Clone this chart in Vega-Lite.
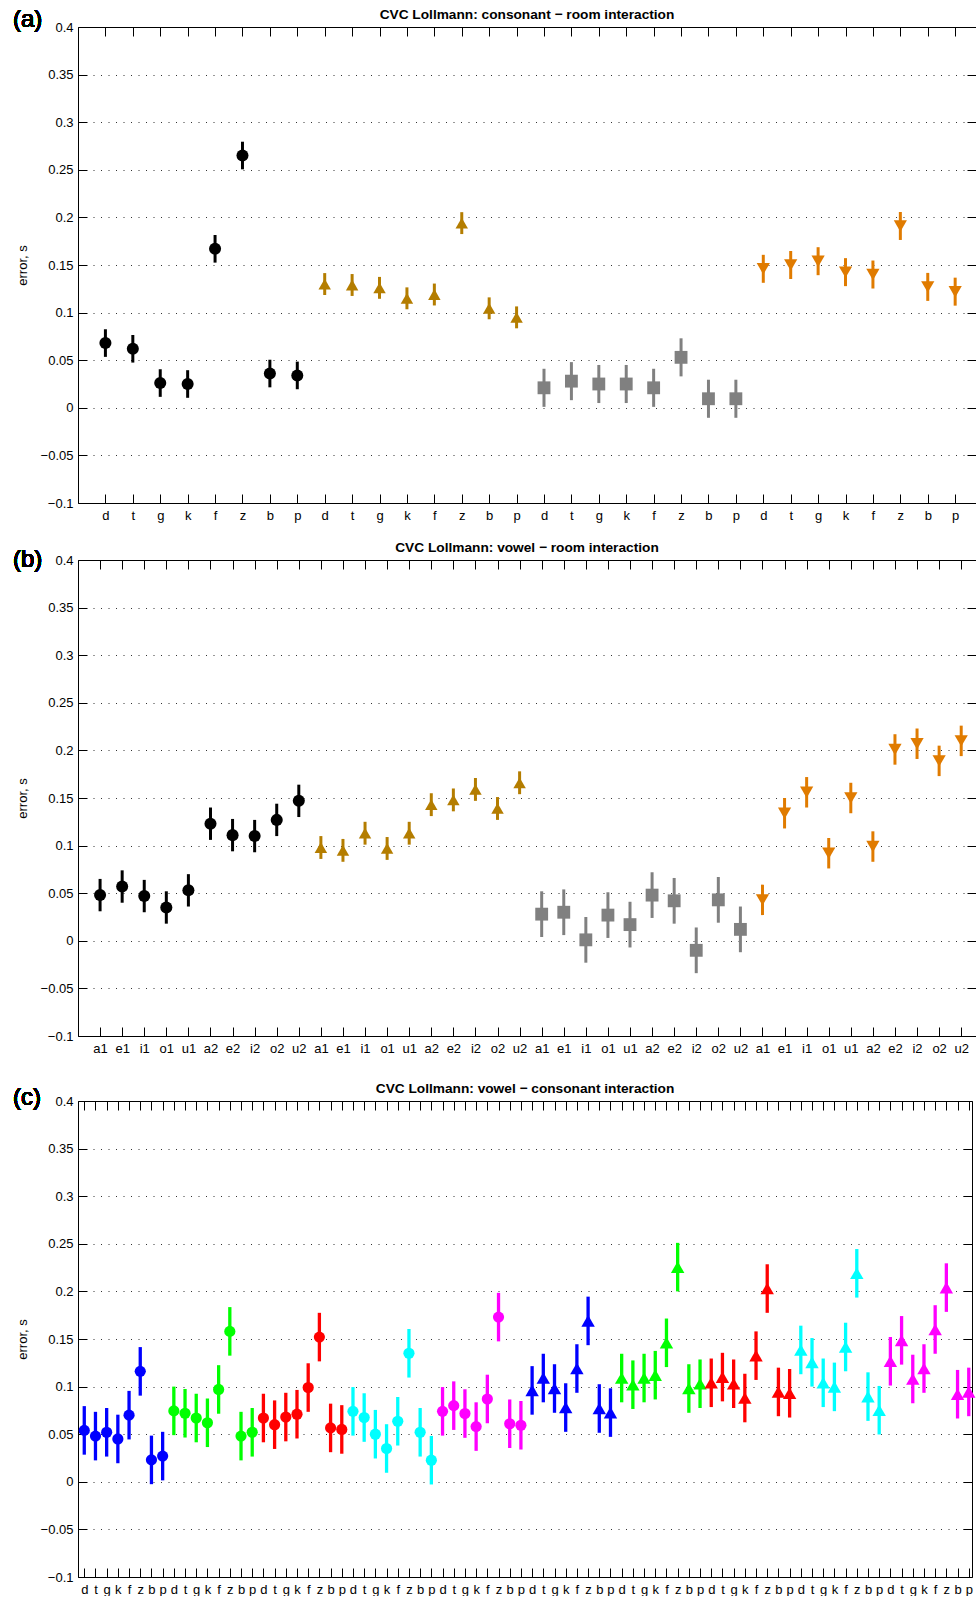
{
  "$schema": "https://vega.github.io/schema/vega-lite/v6.json",
  "padding": {"left": 12, "top": 7, "right": 0, "bottom": 0},
  "background": "white",
  "config": {
    "view": {"stroke": null},
    "font": "Liberation Sans",
    "axis": {"labelFont": "Liberation Sans", "titleFont": "Liberation Sans", "labelColor": "black", "titleColor": "black", "domainColor": "black", "tickColor": "black"}
  },
  "datasets": {
    "a": [
      {"pos": 1, "grp": "g1", "val": 0.068, "err": 0.0145},
      {"pos": 2, "grp": "g1", "val": 0.062, "err": 0.0145},
      {"pos": 3, "grp": "g1", "val": 0.026, "err": 0.0145},
      {"pos": 4, "grp": "g1", "val": 0.025, "err": 0.0145},
      {"pos": 5, "grp": "g1", "val": 0.167, "err": 0.0145},
      {"pos": 6, "grp": "g1", "val": 0.265, "err": 0.0145},
      {"pos": 7, "grp": "g1", "val": 0.036, "err": 0.0145},
      {"pos": 8, "grp": "g1", "val": 0.034, "err": 0.0145},
      {"pos": 9, "grp": "g2", "val": 0.130, "err": 0.0115},
      {"pos": 10, "grp": "g2", "val": 0.129, "err": 0.0115},
      {"pos": 11, "grp": "g2", "val": 0.126, "err": 0.0115},
      {"pos": 12, "grp": "g2", "val": 0.115, "err": 0.0115},
      {"pos": 13, "grp": "g2", "val": 0.119, "err": 0.0115},
      {"pos": 14, "grp": "g2", "val": 0.194, "err": 0.0115},
      {"pos": 15, "grp": "g2", "val": 0.1045, "err": 0.0115},
      {"pos": 16, "grp": "g2", "val": 0.095, "err": 0.0115},
      {"pos": 17, "grp": "g3", "val": 0.021, "err": 0.02},
      {"pos": 18, "grp": "g3", "val": 0.028, "err": 0.02},
      {"pos": 19, "grp": "g3", "val": 0.025, "err": 0.02},
      {"pos": 20, "grp": "g3", "val": 0.025, "err": 0.02},
      {"pos": 21, "grp": "g3", "val": 0.021, "err": 0.02},
      {"pos": 22, "grp": "g3", "val": 0.053, "err": 0.02},
      {"pos": 23, "grp": "g3", "val": 0.0095, "err": 0.02},
      {"pos": 24, "grp": "g3", "val": 0.0095, "err": 0.02},
      {"pos": 25, "grp": "g4", "val": 0.146, "err": 0.0147},
      {"pos": 26, "grp": "g4", "val": 0.150, "err": 0.0147},
      {"pos": 27, "grp": "g4", "val": 0.154, "err": 0.0147},
      {"pos": 28, "grp": "g4", "val": 0.1425, "err": 0.0147},
      {"pos": 29, "grp": "g4", "val": 0.140, "err": 0.0147},
      {"pos": 30, "grp": "g4", "val": 0.191, "err": 0.0147},
      {"pos": 31, "grp": "g4", "val": 0.127, "err": 0.0147},
      {"pos": 32, "grp": "g4", "val": 0.122, "err": 0.0147}
    ],
    "b": [
      {"pos": 1, "grp": "g1", "val": 0.048, "err": 0.017},
      {"pos": 2, "grp": "g1", "val": 0.057, "err": 0.017},
      {"pos": 3, "grp": "g1", "val": 0.047, "err": 0.017},
      {"pos": 4, "grp": "g1", "val": 0.035, "err": 0.017},
      {"pos": 5, "grp": "g1", "val": 0.053, "err": 0.017},
      {"pos": 6, "grp": "g1", "val": 0.123, "err": 0.017},
      {"pos": 7, "grp": "g1", "val": 0.111, "err": 0.017},
      {"pos": 8, "grp": "g1", "val": 0.110, "err": 0.017},
      {"pos": 9, "grp": "g1", "val": 0.127, "err": 0.017},
      {"pos": 10, "grp": "g1", "val": 0.147, "err": 0.017},
      {"pos": 11, "grp": "g2", "val": 0.098, "err": 0.012},
      {"pos": 12, "grp": "g2", "val": 0.095, "err": 0.012},
      {"pos": 13, "grp": "g2", "val": 0.113, "err": 0.012},
      {"pos": 14, "grp": "g2", "val": 0.097, "err": 0.012},
      {"pos": 15, "grp": "g2", "val": 0.113, "err": 0.012},
      {"pos": 16, "grp": "g2", "val": 0.143, "err": 0.012},
      {"pos": 17, "grp": "g2", "val": 0.148, "err": 0.012},
      {"pos": 18, "grp": "g2", "val": 0.159, "err": 0.012},
      {"pos": 19, "grp": "g2", "val": 0.139, "err": 0.012},
      {"pos": 20, "grp": "g2", "val": 0.166, "err": 0.012},
      {"pos": 21, "grp": "g3", "val": 0.028, "err": 0.024},
      {"pos": 22, "grp": "g3", "val": 0.030, "err": 0.024},
      {"pos": 23, "grp": "g3", "val": 0.001, "err": 0.024},
      {"pos": 24, "grp": "g3", "val": 0.027, "err": 0.024},
      {"pos": 25, "grp": "g3", "val": 0.017, "err": 0.024},
      {"pos": 26, "grp": "g3", "val": 0.048, "err": 0.024},
      {"pos": 27, "grp": "g3", "val": 0.042, "err": 0.024},
      {"pos": 28, "grp": "g3", "val": -0.010, "err": 0.024},
      {"pos": 29, "grp": "g3", "val": 0.043, "err": 0.024},
      {"pos": 30, "grp": "g3", "val": 0.012, "err": 0.024},
      {"pos": 31, "grp": "g4", "val": 0.043, "err": 0.016},
      {"pos": 32, "grp": "g4", "val": 0.134, "err": 0.016},
      {"pos": 33, "grp": "g4", "val": 0.156, "err": 0.016},
      {"pos": 34, "grp": "g4", "val": 0.092, "err": 0.016},
      {"pos": 35, "grp": "g4", "val": 0.150, "err": 0.016},
      {"pos": 36, "grp": "g4", "val": 0.099, "err": 0.016},
      {"pos": 37, "grp": "g4", "val": 0.201, "err": 0.016},
      {"pos": 38, "grp": "g4", "val": 0.207, "err": 0.016},
      {"pos": 39, "grp": "g4", "val": 0.189, "err": 0.016},
      {"pos": 40, "grp": "g4", "val": 0.210, "err": 0.016}
    ],
    "c": [
      {"pos": 1, "vow": "a", "set": "1", "val": 0.054, "err": 0.0255},
      {"pos": 2, "vow": "a", "set": "1", "val": 0.048, "err": 0.0255},
      {"pos": 3, "vow": "a", "set": "1", "val": 0.052, "err": 0.0255},
      {"pos": 4, "vow": "a", "set": "1", "val": 0.045, "err": 0.0255},
      {"pos": 5, "vow": "a", "set": "1", "val": 0.070, "err": 0.0255},
      {"pos": 6, "vow": "a", "set": "1", "val": 0.116, "err": 0.0255},
      {"pos": 7, "vow": "a", "set": "1", "val": 0.023, "err": 0.0255},
      {"pos": 8, "vow": "a", "set": "1", "val": 0.027, "err": 0.0255},
      {"pos": 9, "vow": "e", "set": "1", "val": 0.0745, "err": 0.0255},
      {"pos": 10, "vow": "e", "set": "1", "val": 0.072, "err": 0.0255},
      {"pos": 11, "vow": "e", "set": "1", "val": 0.067, "err": 0.0255},
      {"pos": 12, "vow": "e", "set": "1", "val": 0.062, "err": 0.0255},
      {"pos": 13, "vow": "e", "set": "1", "val": 0.097, "err": 0.0255},
      {"pos": 14, "vow": "e", "set": "1", "val": 0.158, "err": 0.0255},
      {"pos": 15, "vow": "e", "set": "1", "val": 0.048, "err": 0.0255},
      {"pos": 16, "vow": "e", "set": "1", "val": 0.052, "err": 0.0255},
      {"pos": 17, "vow": "i", "set": "1", "val": 0.067, "err": 0.0255},
      {"pos": 18, "vow": "i", "set": "1", "val": 0.060, "err": 0.0255},
      {"pos": 19, "vow": "i", "set": "1", "val": 0.068, "err": 0.0255},
      {"pos": 20, "vow": "i", "set": "1", "val": 0.071, "err": 0.0255},
      {"pos": 21, "vow": "i", "set": "1", "val": 0.099, "err": 0.0255},
      {"pos": 22, "vow": "i", "set": "1", "val": 0.152, "err": 0.0255},
      {"pos": 23, "vow": "i", "set": "1", "val": 0.0566, "err": 0.0255},
      {"pos": 24, "vow": "i", "set": "1", "val": 0.055, "err": 0.0255},
      {"pos": 25, "vow": "o", "set": "1", "val": 0.074, "err": 0.0255},
      {"pos": 26, "vow": "o", "set": "1", "val": 0.0675, "err": 0.0255},
      {"pos": 27, "vow": "o", "set": "1", "val": 0.050, "err": 0.0255},
      {"pos": 28, "vow": "o", "set": "1", "val": 0.035, "err": 0.0255},
      {"pos": 29, "vow": "o", "set": "1", "val": 0.0636, "err": 0.0255},
      {"pos": 30, "vow": "o", "set": "1", "val": 0.135, "err": 0.0255},
      {"pos": 31, "vow": "o", "set": "1", "val": 0.052, "err": 0.0255},
      {"pos": 32, "vow": "o", "set": "1", "val": 0.0227, "err": 0.0255},
      {"pos": 33, "vow": "u", "set": "1", "val": 0.074, "err": 0.0255},
      {"pos": 34, "vow": "u", "set": "1", "val": 0.080, "err": 0.0255},
      {"pos": 35, "vow": "u", "set": "1", "val": 0.0717, "err": 0.0255},
      {"pos": 36, "vow": "u", "set": "1", "val": 0.058, "err": 0.0255},
      {"pos": 37, "vow": "u", "set": "1", "val": 0.087, "err": 0.0255},
      {"pos": 38, "vow": "u", "set": "1", "val": 0.173, "err": 0.0255},
      {"pos": 39, "vow": "u", "set": "1", "val": 0.061, "err": 0.0255},
      {"pos": 40, "vow": "u", "set": "1", "val": 0.0594, "err": 0.0255},
      {"pos": 41, "vow": "a", "set": "2", "val": 0.096, "err": 0.0255},
      {"pos": 42, "vow": "a", "set": "2", "val": 0.109, "err": 0.0255},
      {"pos": 43, "vow": "a", "set": "2", "val": 0.098, "err": 0.0255},
      {"pos": 44, "vow": "a", "set": "2", "val": 0.078, "err": 0.0255},
      {"pos": 45, "vow": "a", "set": "2", "val": 0.119, "err": 0.0255},
      {"pos": 46, "vow": "a", "set": "2", "val": 0.169, "err": 0.0255},
      {"pos": 47, "vow": "a", "set": "2", "val": 0.077, "err": 0.0255},
      {"pos": 48, "vow": "a", "set": "2", "val": 0.0727, "err": 0.0255},
      {"pos": 49, "vow": "e", "set": "2", "val": 0.109, "err": 0.0255},
      {"pos": 50, "vow": "e", "set": "2", "val": 0.102, "err": 0.0255},
      {"pos": 51, "vow": "e", "set": "2", "val": 0.109, "err": 0.0255},
      {"pos": 52, "vow": "e", "set": "2", "val": 0.112, "err": 0.0255},
      {"pos": 53, "vow": "e", "set": "2", "val": 0.146, "err": 0.0255},
      {"pos": 54, "vow": "e", "set": "2", "val": 0.2255, "err": 0.0255},
      {"pos": 55, "vow": "e", "set": "2", "val": 0.098, "err": 0.0255},
      {"pos": 56, "vow": "e", "set": "2", "val": 0.103, "err": 0.0255},
      {"pos": 57, "vow": "i", "set": "2", "val": 0.104, "err": 0.0255},
      {"pos": 58, "vow": "i", "set": "2", "val": 0.110, "err": 0.0255},
      {"pos": 59, "vow": "i", "set": "2", "val": 0.103, "err": 0.0255},
      {"pos": 60, "vow": "i", "set": "2", "val": 0.088, "err": 0.0255},
      {"pos": 61, "vow": "i", "set": "2", "val": 0.1325, "err": 0.0255},
      {"pos": 62, "vow": "i", "set": "2", "val": 0.203, "err": 0.0255},
      {"pos": 63, "vow": "i", "set": "2", "val": 0.0944, "err": 0.0255},
      {"pos": 64, "vow": "i", "set": "2", "val": 0.093, "err": 0.0255},
      {"pos": 65, "vow": "o", "set": "2", "val": 0.1385, "err": 0.0255},
      {"pos": 66, "vow": "o", "set": "2", "val": 0.1255, "err": 0.0255},
      {"pos": 67, "vow": "o", "set": "2", "val": 0.104, "err": 0.0255},
      {"pos": 68, "vow": "o", "set": "2", "val": 0.0997, "err": 0.0255},
      {"pos": 69, "vow": "o", "set": "2", "val": 0.1416, "err": 0.0255},
      {"pos": 70, "vow": "o", "set": "2", "val": 0.219, "err": 0.0255},
      {"pos": 71, "vow": "o", "set": "2", "val": 0.0895, "err": 0.0255},
      {"pos": 72, "vow": "o", "set": "2", "val": 0.0752, "err": 0.0255},
      {"pos": 73, "vow": "u", "set": "2", "val": 0.1266, "err": 0.0255},
      {"pos": 74, "vow": "u", "set": "2", "val": 0.1486, "err": 0.0255},
      {"pos": 75, "vow": "u", "set": "2", "val": 0.108, "err": 0.0255},
      {"pos": 76, "vow": "u", "set": "2", "val": 0.119, "err": 0.0255},
      {"pos": 77, "vow": "u", "set": "2", "val": 0.160, "err": 0.0255},
      {"pos": 78, "vow": "u", "set": "2", "val": 0.204, "err": 0.0255},
      {"pos": 79, "vow": "u", "set": "2", "val": 0.092, "err": 0.0255},
      {"pos": 80, "vow": "u", "set": "2", "val": 0.0944, "err": 0.0255}
    ]
  },
  "resolve": {"scale": {"color": "independent", "shape": "independent", "size": "independent"}},
  "spacing": 26,
  "vconcat": [
    {
      "spacing": 18,
      "resolve": {"scale": {"color": "independent", "shape": "independent", "size": "independent"}},
      "vconcat": [
        {
          "title": {"text": "CVC Lollmann: consonant − room interaction", "font": "Liberation Sans", "fontSize": 13.7, "fontWeight": "bold", "color": "black", "frame": "group", "offset": -13.5},
          "width": 898, "height": 476,
          "data": {"name": "a"},
          "resolve": {"axis": {"x": "independent", "y": "independent"}},
          "layer": [
            {
              "mark": {"type": "errorbar", "thickness": 3},
              "encoding": {
                "x": {"field": "pos", "type": "quantitative", "scale": {"domain": [0, 32.76], "nice": false, "zero": false}, "axis": {"orient": "top", "values": [1,2,3,4,5,6,7,8,9,10,11,12,13,14,15,16,17,18,19,20,21,22,23,24,25,26,27,28,29,30,31,32], "labels": false, "tickSize": -9, "grid": false, "title": null}},
                "y": {"field": "val", "type": "quantitative", "scale": {"domain": [-0.1, 0.4], "nice": false, "zero": false}, "axis": {"orient": "right", "values": [-0.1,-0.05,0,0.05,0.1,0.15,0.2,0.25,0.3,0.35,0.4], "labels": false, "domain": false, "tickSize": -9, "grid": false, "title": null}},
                "yError": {"field": "err"},
                "color": {"field": "grp", "type": "nominal", "scale": {"domain": ["g1","g2","g3","g4"], "range": ["#000000","#B47D00","#808080","#E07B00"]}, "legend": null}
              }
            },
            {
              "mark": {"type": "point", "filled": true, "opacity": 1},
              "encoding": {
                "x": {"field": "pos", "type": "quantitative", "scale": {"domain": [0, 32.76], "nice": false, "zero": false}, "axis": {"orient": "bottom", "values": [1,2,3,4,5,6,7,8,9,10,11,12,13,14,15,16,17,18,19,20,21,22,23,24,25,26,27,28,29,30,31,32], "labelExpr": "['d','t','g','k','f','z','b','p'][(datum.value-1)%8]", "labelFontSize": 13, "labelPadding": 15, "labelOverlap": false, "labelFlush": false, "tickSize": -9, "grid": false, "title": null}},
                "y": {"field": "val", "type": "quantitative", "scale": {"domain": [-0.1, 0.4], "nice": false, "zero": false}, "axis": {"orient": "left", "values": [-0.1,-0.05,0,0.05,0.1,0.15,0.2,0.25,0.3,0.35,0.4], "format": "~g", "labelFontSize": 13, "labelPadding": 14, "labelOverlap": false, "labelFlush": false, "tickSize": -9, "grid": true, "gridDash": [1, 6.5], "gridColor": "#333333", "gridWidth": 1, "title": "error, s", "titleFontSize": 13, "titleFontWeight": "normal", "titlePadding": 11}},
                "color": {"field": "grp", "type": "nominal", "scale": {"domain": ["g1","g2","g3","g4"], "range": ["#000000","#B47D00","#808080","#E07B00"]}, "legend": null},
                "shape": {"field": "grp", "type": "nominal", "scale": {"domain": ["g1","g2","g3","g4"], "range": ["circle","triangle-up","square","triangle-down"]}, "legend": null},
                "size": {"field": "grp", "type": "nominal", "scale": {"domain": ["g1","g2","g3","g4"], "range": [145, 175, 125, 175]}, "legend": null}
              }
            },
            {
              "mark": {"type": "text", "font": "Liberation Sans", "fontSize": 24, "fontWeight": "normal", "align": "left", "baseline": "alphabetic", "color": "black"},
              "encoding": {
                "x": {"datum": -2.371, "type": "quantitative", "scale": {"domain": [0, 32.76], "nice": false, "zero": false}, "axis": null},
                "y": {"datum": 0.4, "type": "quantitative", "scale": {"domain": [-0.1, 0.4], "nice": false, "zero": false}, "axis": null},
                "text": {"value": "(a)"}
              }
            }
          ]
        },
        {
          "title": {"text": "CVC Lollmann: vowel − room interaction", "font": "Liberation Sans", "fontSize": 13.7, "fontWeight": "bold", "color": "black", "frame": "group", "offset": -6.5},
          "width": 898, "height": 476,
          "data": {"name": "b"},
          "resolve": {"axis": {"x": "independent", "y": "independent"}},
          "layer": [
            {
              "mark": {"type": "errorbar", "thickness": 3},
              "encoding": {
                "x": {"field": "pos", "type": "quantitative", "scale": {"domain": [0, 40.67], "nice": false, "zero": false}, "axis": {"orient": "top", "values": [1,2,3,4,5,6,7,8,9,10,11,12,13,14,15,16,17,18,19,20,21,22,23,24,25,26,27,28,29,30,31,32,33,34,35,36,37,38,39,40], "labels": false, "tickSize": -9, "grid": false, "title": null}},
                "y": {"field": "val", "type": "quantitative", "scale": {"domain": [-0.1, 0.4], "nice": false, "zero": false}, "axis": {"orient": "right", "values": [-0.1,-0.05,0,0.05,0.1,0.15,0.2,0.25,0.3,0.35,0.4], "labels": false, "domain": false, "tickSize": -9, "grid": false, "title": null}},
                "yError": {"field": "err"},
                "color": {"field": "grp", "type": "nominal", "scale": {"domain": ["g1","g2","g3","g4"], "range": ["#000000","#B47D00","#808080","#E07B00"]}, "legend": null}
              }
            },
            {
              "mark": {"type": "point", "filled": true, "opacity": 1},
              "encoding": {
                "x": {"field": "pos", "type": "quantitative", "scale": {"domain": [0, 40.67], "nice": false, "zero": false}, "axis": {"orient": "bottom", "values": [1,2,3,4,5,6,7,8,9,10,11,12,13,14,15,16,17,18,19,20,21,22,23,24,25,26,27,28,29,30,31,32,33,34,35,36,37,38,39,40], "labelExpr": "['a1','e1','i1','o1','u1','a2','e2','i2','o2','u2'][(datum.value-1)%10]", "labelFontSize": 13, "labelPadding": 15, "labelOverlap": false, "labelFlush": false, "tickSize": -9, "grid": false, "title": null}},
                "y": {"field": "val", "type": "quantitative", "scale": {"domain": [-0.1, 0.4], "nice": false, "zero": false}, "axis": {"orient": "left", "values": [-0.1,-0.05,0,0.05,0.1,0.15,0.2,0.25,0.3,0.35,0.4], "format": "~g", "labelFontSize": 13, "labelPadding": 14, "labelOverlap": false, "labelFlush": false, "tickSize": -9, "grid": true, "gridDash": [1, 6.5], "gridColor": "#333333", "gridWidth": 1, "title": "error, s", "titleFontSize": 13, "titleFontWeight": "normal", "titlePadding": 11}},
                "color": {"field": "grp", "type": "nominal", "scale": {"domain": ["g1","g2","g3","g4"], "range": ["#000000","#B47D00","#808080","#E07B00"]}, "legend": null},
                "shape": {"field": "grp", "type": "nominal", "scale": {"domain": ["g1","g2","g3","g4"], "range": ["circle","triangle-up","square","triangle-down"]}, "legend": null},
                "size": {"field": "grp", "type": "nominal", "scale": {"domain": ["g1","g2","g3","g4"], "range": [145, 175, 125, 175]}, "legend": null}
              }
            },
            {
              "mark": {"type": "text", "font": "Liberation Sans", "fontSize": 24, "fontWeight": "normal", "align": "left", "baseline": "alphabetic", "color": "black"},
              "encoding": {
                "x": {"datum": -2.944, "type": "quantitative", "scale": {"domain": [0, 40.67], "nice": false, "zero": false}, "axis": null},
                "y": {"datum": 0.3926, "type": "quantitative", "scale": {"domain": [-0.1, 0.4], "nice": false, "zero": false}, "axis": null},
                "text": {"value": "(b)"}
              }
            }
          ]
        }
      ]
    },
    {
      "title": {"text": "CVC Lollmann: vowel − consonant interaction", "font": "Liberation Sans", "fontSize": 13.7, "fontWeight": "bold", "color": "black", "frame": "group", "offset": -9.5},
      "width": 894, "height": 476,
      "data": {"name": "c"},
      "resolve": {"axis": {"x": "independent", "y": "independent"}},
      "layer": [
        {
          "mark": {"type": "errorbar", "thickness": 3.3},
          "encoding": {
            "x": {"field": "pos", "type": "quantitative", "scale": {"domain": [0.44, 80.29], "nice": false, "zero": false}, "axis": {"orient": "top", "values": [1,2,3,4,5,6,7,8,9,10,11,12,13,14,15,16,17,18,19,20,21,22,23,24,25,26,27,28,29,30,31,32,33,34,35,36,37,38,39,40,41,42,43,44,45,46,47,48,49,50,51,52,53,54,55,56,57,58,59,60,61,62,63,64,65,66,67,68,69,70,71,72,73,74,75,76,77,78,79,80], "labels": false, "tickSize": -9, "grid": false, "title": null}},
            "y": {"field": "val", "type": "quantitative", "scale": {"domain": [-0.1, 0.4], "nice": false, "zero": false}, "axis": {"orient": "right", "values": [-0.1,-0.05,0,0.05,0.1,0.15,0.2,0.25,0.3,0.35,0.4], "labels": false, "tickSize": -9, "grid": false, "title": null}},
            "yError": {"field": "err"},
            "color": {"field": "vow", "type": "nominal", "scale": {"domain": ["a","e","i","o","u"], "range": ["#0000FF","#00FF00","#FF0000","#00FFFF","#FF00FF"]}, "legend": null}
          }
        },
        {
          "mark": {"type": "point", "filled": true, "opacity": 1},
          "encoding": {
            "x": {"field": "pos", "type": "quantitative", "scale": {"domain": [0.44, 80.29], "nice": false, "zero": false}, "axis": {"orient": "bottom", "values": [1,2,3,4,5,6,7,8,9,10,11,12,13,14,15,16,17,18,19,20,21,22,23,24,25,26,27,28,29,30,31,32,33,34,35,36,37,38,39,40,41,42,43,44,45,46,47,48,49,50,51,52,53,54,55,56,57,58,59,60,61,62,63,64,65,66,67,68,69,70,71,72,73,74,75,76,77,78,79,80], "labelExpr": "['d','t','g','k','f','z','b','p'][(datum.value-1)%8]", "labelFontSize": 13, "labelPadding": 15, "labelOverlap": false, "labelFlush": false, "tickSize": -9, "grid": false, "title": null}},
            "y": {"field": "val", "type": "quantitative", "scale": {"domain": [-0.1, 0.4], "nice": false, "zero": false}, "axis": {"orient": "left", "values": [-0.1,-0.05,0,0.05,0.1,0.15,0.2,0.25,0.3,0.35,0.4], "format": "~g", "labelFontSize": 13, "labelPadding": 14, "labelOverlap": false, "labelFlush": false, "tickSize": -9, "grid": true, "gridDash": [1, 6.5], "gridColor": "#333333", "gridWidth": 1, "title": "error, s", "titleFontSize": 13, "titleFontWeight": "normal", "titlePadding": 11}},
            "color": {"field": "vow", "type": "nominal", "scale": {"domain": ["a","e","i","o","u"], "range": ["#0000FF","#00FF00","#FF0000","#00FFFF","#FF00FF"]}, "legend": null},
            "shape": {"field": "set", "type": "nominal", "scale": {"domain": ["1","2"], "range": ["circle","triangle-up"]}, "legend": null},
            "size": {"field": "set", "type": "nominal", "scale": {"domain": ["1","2"], "range": [125, 180]}, "legend": null}
          }
        },
        {
          "mark": {"type": "text", "font": "Liberation Sans", "fontSize": 24, "fontWeight": "normal", "align": "left", "baseline": "alphabetic", "color": "black"},
          "encoding": {
            "x": {"datum": -5.37, "type": "quantitative", "scale": {"domain": [0.44, 80.29], "nice": false, "zero": false}, "axis": null},
            "y": {"datum": 0.3958, "type": "quantitative", "scale": {"domain": [-0.1, 0.4], "nice": false, "zero": false}, "axis": null},
            "text": {"value": "(c)"}
          }
        }
      ]
    }
  ]
}
